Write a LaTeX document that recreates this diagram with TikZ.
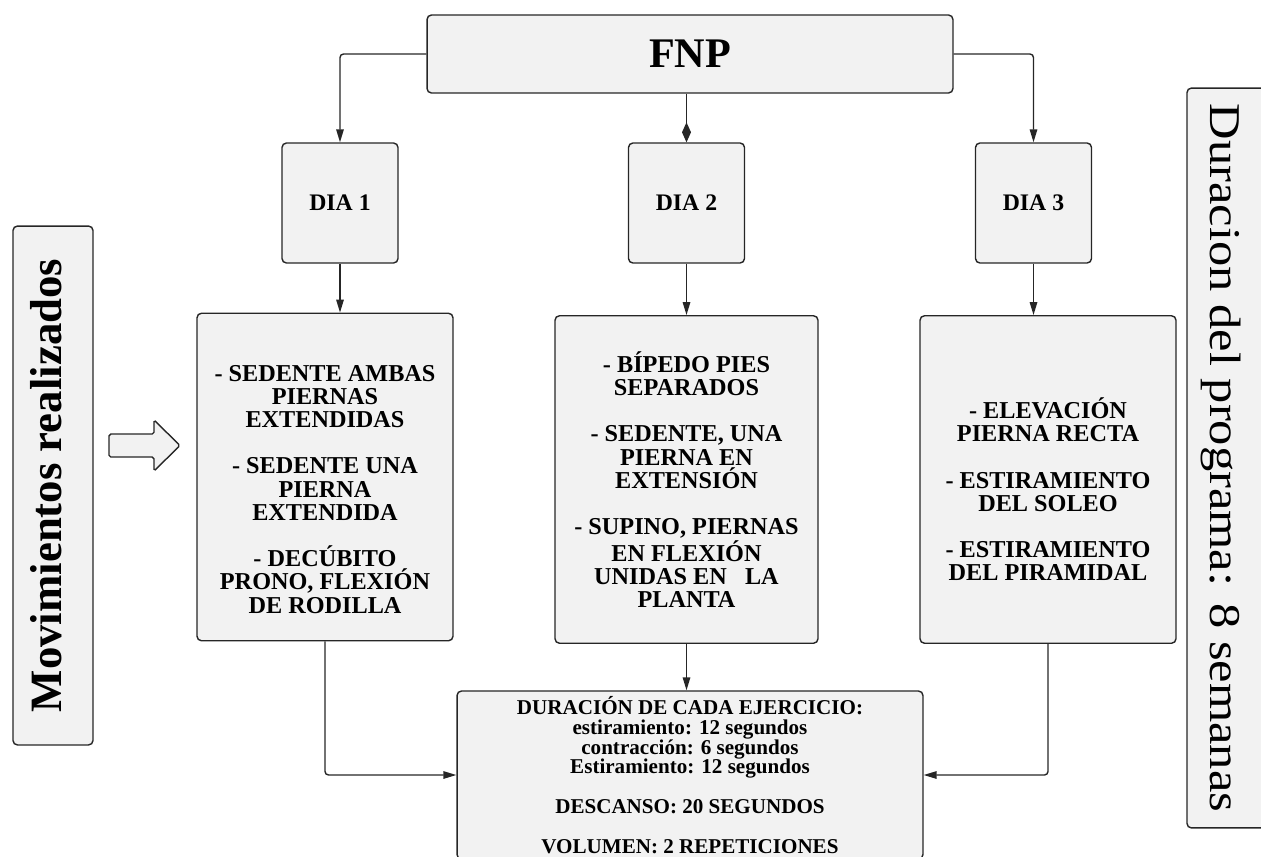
\documentclass[tikz,border=0pt]{standalone}
\usepackage{fontspec}
\setmainfont{Liberation Serif}
\usetikzlibrary{arrows.meta,math}

\begin{document}
\begin{tikzpicture}[x=0.02cm,y=-0.02cm,
    borde/.style={draw=black!85, fill=black!5, line width=0.8pt},
    caja/.style={borde, rounded corners=2.5pt, align=center, inner sep=2pt},
    flecha/.style={line width=0.8pt, draw=black!85, rounded corners=2pt, -{Triangle[length=2.6mm,width=1.5mm]}}]
  \tikzmath{\dw = 2.32; \dh = 2.4; \mh = 6.55;}
  \clip (0,0) rectangle (1261,856);
  % cabecera y dias
  \node[caja, minimum width=10.52cm, minimum height=1.56cm, font=\bfseries\fontsize{24}{26}\selectfont] (fnp) at (690,54) {FNP};
  \node[caja, minimum width=\dw cm, minimum height=\dh cm, font=\bfseries\fontsize{13.5}{15}\selectfont] (dia1) at (340,203) {DIA 1};
  \node[caja, minimum width=\dw cm, minimum height=\dh cm, font=\bfseries\fontsize{13.5}{15}\selectfont] (dia2) at (686.5,203) {DIA 2};
  \node[caja, minimum width=\dw cm, minimum height=\dh cm, font=\bfseries\fontsize{13.5}{15}\selectfont] (dia3) at (1033.5,203) {DIA 3};
  % movimientos de cada dia
  \node[caja, minimum width=5.12cm, minimum height=\mh cm, font=\bfseries\fontsize{13.8}{13.2}\selectfont] (mov1) at (325,477)
    {\rule{0pt}{23pt}- SEDENTE AMBAS\\ PIERNAS\\ EXTENDIDAS\\[13.2pt] - SEDENTE UNA\\ PIERNA\\ EXTENDIDA\\[13.2pt] - DECÚBITO\\ PRONO, FLEXIÓN\\ DE RODILLA};
  \node[caja, minimum width=5.26cm, minimum height=\mh cm, font=\bfseries\fontsize{13.8}{13.2}\selectfont] (mov2) at (686.5,479.5)
    {- BÍPEDO PIES\\ SEPARADOS\\[13.2pt] - SEDENTE, UNA\\ PIERNA EN\\ EXTENSIÓN\\[13.2pt] - SUPINO, PIERNAS\\ EN FLEXIÓN\\ UNIDAS EN~~~LA\\ PLANTA};
  \node[caja, minimum width=5.12cm, minimum height=\mh cm, font=\bfseries\fontsize{13.8}{13.2}\selectfont] (mov3) at (1048,479.5)
    {\rule{0pt}{23pt}- ELEVACIÓN\\ PIERNA RECTA\\[13.2pt] - ESTIRAMIENTO\\ DEL SOLEO\\[13.2pt] - ESTIRAMIENTO\\ DEL PIRAMIDAL};
  \node[caja, minimum width=9.32cm, minimum height=3.36cm, font=\bfseries\fontsize{12}{11.3}\selectfont] (dur) at (690,775)
    {DURACIÓN DE CADA EJERCICIO:\\ estiramiento: 12 segundos\\ contracción: 6 segundos\\ Estiramiento: 12 segundos\\[11.3pt] DESCANSO: 20 SEGUNDOS\\[11.3pt] VOLUMEN: 2 REPETICIONES};
  % rotulos laterales
  \node[caja, rotate=90, minimum width=10.38cm, minimum height=1.6cm, text height=17.5pt, text depth=7.3pt, font=\bfseries\fontsize{25.5}{27}\selectfont] (lado) at (53,485.5) {Movimientos realizados};
  \node[caja, rotate=-90, minimum width=14.8cm, minimum height=1.56cm, text height=20pt, text depth=2pt, font=\fontsize{25}{28}\selectfont] (semanas) at (1226,458) {\scalebox{1.15}[1]{Duracion del programa: 8 semanas}};
  \draw[borde, rounded corners=1pt] (109,434) -- (154,434) -- (154,420) -- (180,445.5) -- (154,471) -- (154,457) -- (109,457) -- cycle;
  % conectores
  \draw[flecha] (fnp.west) -| (dia1.north);
  \draw[flecha] (fnp.east) -| (dia3.north);
  \draw[line width=0.8pt, draw=black!85, -{Diamond[length=4mm,width=1.8mm]}] (fnp.south -| dia2.north) -- (dia2.north);
  \draw[flecha] (dia1.south) -- (dia1.south |- mov1.north);
  \draw[flecha] (dia2.south) -- (dia2.south |- mov2.north);
  \draw[flecha] (dia3.south) -- (dia3.south |- mov3.north);
  \draw[flecha] (mov2.south) -- (mov2.south |- dur.north);
  \draw[flecha] (mov1.south) |- (dur.west);
  \draw[flecha] (mov3.south) |- (dur.east);
\end{tikzpicture}
\end{document}
